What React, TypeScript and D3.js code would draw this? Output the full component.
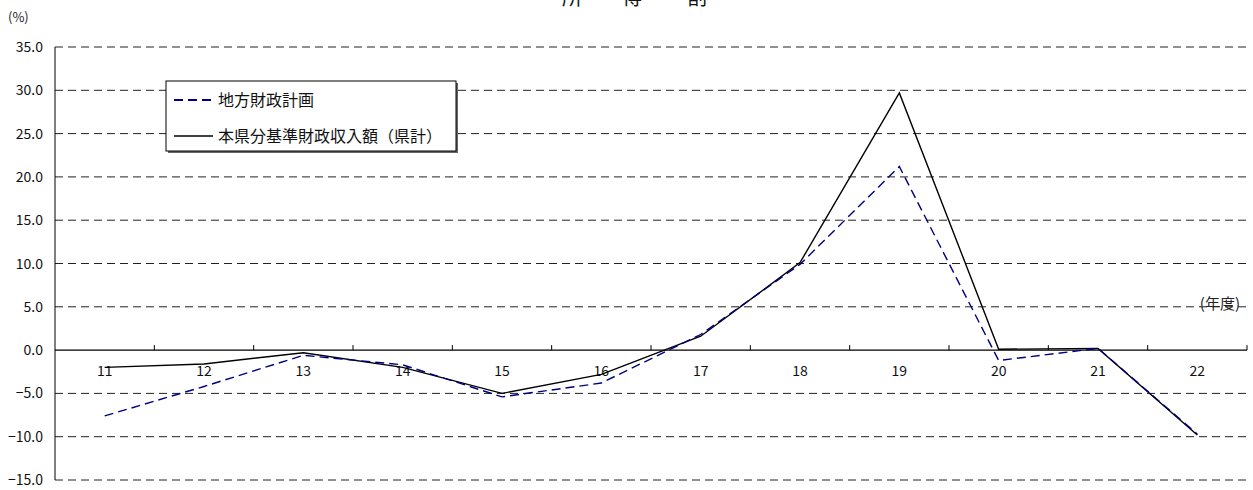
import React from "react";
import * as d3 from "d3";

// 年度 (fiscal years)
const years = ["11", "12", "13", "14", "15", "16", "17", "18", "19", "20", "21", "22"];
// 地方財政計画 (%)
const planValues = [-7.6, -4.2, -0.6, -1.7, -5.4, -3.8, 1.8, 9.9, 21.2, -1.2, 0.2, -9.7];
// 本県分基準財政収入額（県計） (%)
const prefValues = [-2.0, -1.6, -0.3, -2.0, -5.0, -2.8, 1.6, 10.1, 29.7, 0.1, 0.2, -9.8];
// y-axis ticks
const yTicks = [35, 30, 25, 20, 15, 10, 5, 0, -5, -10, -15];

const titleChars = ["所", "得", "割"];
const legendLabels = ["地方財政計画", "本県分基準財政収入額（県計）"];

const W = 1253;
const H = 490;
const FONT = "'Noto Sans CJK JP', 'Noto Sans', sans-serif";

export default function App() {
  const left = 55;
  const right = 1247;
  const x = d3.scaleBand<string>().domain(years).range([left, right]);
  const y = d3.scaleLinear().domain([-15, 35]).range([480, 47]);

  const xc = (i: number) => (x(years[i]) as number) + x.bandwidth() / 2;
  const line = d3
    .line<number>()
    .x((_, i) => xc(i))
    .y((v) => y(v));

  const y0 = y(0);
  const tickXs = d3.range(1, years.length + 1).map((k) => left + k * x.bandwidth());

  return (
    <svg
      width={W}
      height={H}
      style={{ position: "absolute", left: 0, top: 0, background: "#fff" }}
      fontFamily={FONT}
    >
      {/* title, partly above the frame */}
      {titleChars.map((c, i) => (
        <text key={c} x={[572, 632, 697][i]} y={5} fontSize={20} textAnchor="middle" fill="#111">
          {c}
        </text>
      ))}

      <text x={8} y={22} fontSize={13} fill="#222">
        (%)
      </text>

      {/* horizontal grid */}
      {yTicks.map((t) =>
        t === 0 ? null : (
          <line
            key={t}
            x1={left}
            x2={right}
            y1={y(t)}
            y2={y(t)}
            stroke="#222"
            strokeWidth={1}
            strokeDasharray="8,5"
          />
        )
      )}

      {/* y tick labels */}
      {yTicks.map((t) => (
        <text
          key={"l" + t}
          x={43}
          y={y(t) + 5}
          fontSize={14}
          textAnchor="end"
          fill="#111"
        >
          {t < 0 ? "\u2212" + Math.abs(t).toFixed(1) : t.toFixed(1)}
        </text>
      ))}

      {/* y axis */}
      <line x1={left} x2={left} y1={y(35)} y2={y(-15)} stroke="#000" strokeWidth={1} />

      {/* x axis at zero with upward ticks */}
      <line x1={left} x2={right} y1={y0} y2={y0} stroke="#000" strokeWidth={1.2} />
      {tickXs.map((tx, i) => (
        <line key={"t" + i} x1={tx} x2={tx} y1={y0} y2={y0 - 5} stroke="#000" strokeWidth={1} />
      ))}

      {/* category labels */}
      {years.map((yr, i) => (
        <text key={"x" + yr} x={xc(i)} y={376} fontSize={14} textAnchor="middle" fill="#111">
          {yr}
        </text>
      ))}

      <text x={1240} y={309} fontSize={15} textAnchor="end" fill="#222">
        (年度)
      </text>

      {/* series */}
      <path d={line(prefValues) ?? ""} fill="none" stroke="#000" strokeWidth={1.4} />
      <path
        d={line(planValues) ?? ""}
        fill="none"
        stroke="#000080"
        strokeWidth={1.4}
        strokeDasharray="9,5"
      />

      {/* legend */}
      <rect x={168} y={83} width={290} height={70} fill="#666" />
      <rect x={166} y={81} width={290} height={70} fill="#fff" stroke="#000" strokeWidth={1} />
      <line x1={174} x2={213} y1={100} y2={100} stroke="#000080" strokeWidth={2} strokeDasharray="9,5" />
      <text x={218} y={106} fontSize={16} fill="#111">
        {legendLabels[0]}
      </text>
      <line x1={174} x2={213} y1={136} y2={136} stroke="#000" strokeWidth={1.4} />
      <text x={218} y={142} fontSize={16} fill="#111">
        {legendLabels[1]}
      </text>
    </svg>
  );
}
